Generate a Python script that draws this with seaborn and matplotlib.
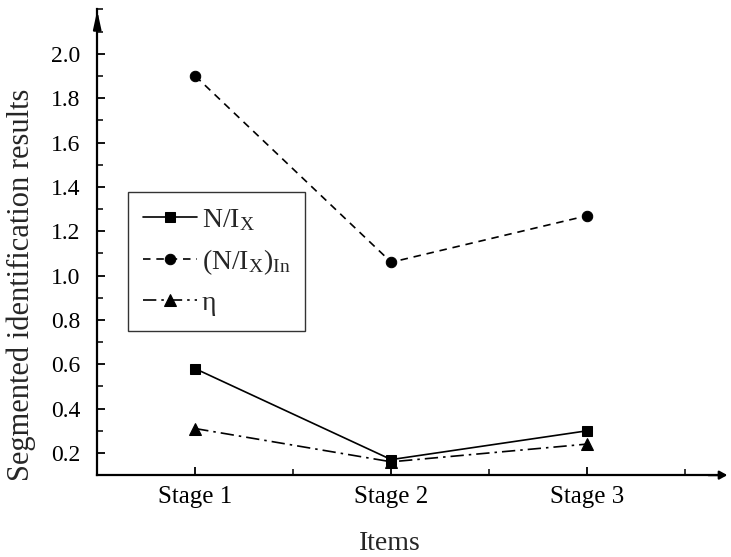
import matplotlib
matplotlib.use("Agg")
import matplotlib.pyplot as plt
from matplotlib.ticker import MultipleLocator, FixedLocator
import seaborn as sns
import pandas as pd

stages = ["Stage 1", "Stage 2", "Stage 3"]
n_ix = [0.58, 0.17, 0.30]
n_ix_in = [1.90, 1.06, 1.27]
eta = [0.31, 0.16, 0.24]
labels = [r"N/I$_\mathrm{X}$", r"(N/I$_\mathrm{X}$)$_\mathrm{In}$", "η"]

sns.set_style("ticks")
plt.rcParams["font.family"] = ["Liberation Serif", "DejaVu Serif"]
plt.rcParams["mathtext.fontset"] = "custom"
plt.rcParams["mathtext.rm"] = "Liberation Serif"
plt.rcParams["mathtext.it"] = "Liberation Serif:italic"

fig = plt.figure(figsize=(7.31, 5.57), dpi=100)
ax = fig.add_axes([0.133, 0.147, 0.858, 0.836])

series = [
    (n_ix, labels[0], "s", "-", 6.5),
    (n_ix_in, labels[1], "o", (0, (4.5, 3.5)), 7.5),
    (eta, labels[2], "^", (0, (8, 3, 1.5, 3)), 8),
]
for vals, lab, mk, ls, ms in series:
    df = pd.DataFrame({"Items": stages, "value": vals})
    sns.lineplot(data=df, x="Items", y="value", ax=ax, color="black",
                 marker=mk, markersize=ms, linestyle=ls, linewidth=1.2,
                 markeredgecolor="black", label=lab, sort=False)

ax.set_xlim(-0.5, 2.7)
ax.set_ylim(0.1, 2.2)
ax.set_yticks([0.2, 0.4, 0.6, 0.8, 1.0, 1.2, 1.4, 1.6, 1.8, 2.0])
ax.yaxis.set_minor_locator(MultipleLocator(0.1))
ax.xaxis.set_minor_locator(FixedLocator([0.5, 1.5, 2.5]))
ax.set_xticks([0, 1, 2])
ax.set_xticklabels(stages)

for s in ["top", "right"]:
    ax.spines[s].set_visible(False)
for s in ["left", "bottom"]:
    ax.spines[s].set_linewidth(1.6)
    ax.spines[s].set_color("black")

ax.tick_params(axis="both", which="major", direction="in", length=6, width=1.3,
               colors="black")
ax.tick_params(axis="both", which="minor", direction="in", length=4, width=1.3)
ax.tick_params(axis="y", which="major", pad=12, labelsize=17)
ax.tick_params(axis="x", which="major", pad=8, labelsize=18)

ax.set_xlabel("Items", fontsize=20)
ax.set_ylabel("Segmented identification results", fontsize=22)
ax.xaxis.set_label_coords(0.467, -0.12)
ax.yaxis.set_label_coords(-0.097, 0.408)

# axis arrows
ax.annotate("", xy=(0, 1.004), xytext=(0, 0.95), xycoords="axes fraction",
            arrowprops=dict(arrowstyle="-|>,head_length=0.6,head_width=0.13",
                            color="black", lw=1.6, mutation_scale=18),
            annotation_clip=False)
ax.annotate("", xy=(1.009, 0), xytext=(0.97, 0), xycoords="axes fraction",
            arrowprops=dict(arrowstyle="-|>,head_length=0.45,head_width=0.25",
                            color="black", lw=1.6, mutation_scale=10),
            annotation_clip=False)

leg = ax.legend(loc="upper left", bbox_to_anchor=(0.049, 0.608), borderaxespad=0,
                fontsize=20, frameon=True, fancybox=False, handlelength=1.95,
                handletextpad=0.15, labelspacing=0.5, borderpad=0.55)
leg.get_frame().set_edgecolor("black")
leg.get_frame().set_linewidth(1.0)

fig.savefig("out.png", dpi=100)
